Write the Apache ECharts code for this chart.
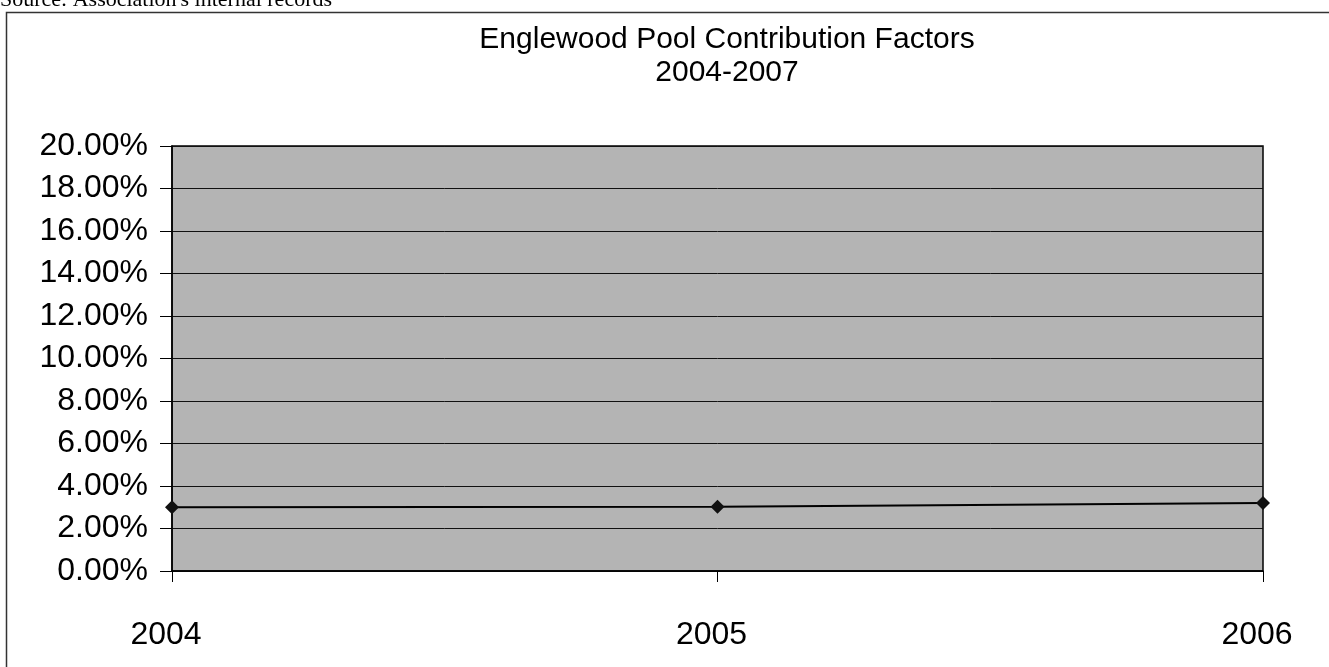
<!DOCTYPE html>
<html>
<head>
<meta charset="utf-8">
<script src="https://cdn.jsdelivr.net/npm/echarts@6/dist/echarts.min.js"></script>
<style>
html,body{margin:0;padding:0;background:#fff;}
#chart{width:1329px;height:667px;}
</style>
</head>
<body>
<div id="chart"></div>
<script>
const categories = ['2004', '2005', '2006'];
const contributionFactor = [3.0, 3.02, 3.2];
const yTicks = [0, 2, 4, 6, 8, 10, 12, 14, 16, 18, 20];

const chart = echarts.init(document.getElementById('chart'), null, {renderer: 'canvas'});
const font = 'Arial, "Liberation Sans", sans-serif';
chart.setOption({
  animation: false,
  backgroundColor: '#ffffff',
  title: {
    text: 'Englewood Pool Contribution Factors\n2004-2007',
    left: 722,
    top: 18,
    textAlign: 'center',
    textStyle: {fontFamily: font, fontSize: 30, fontWeight: 'normal', color: '#000', lineHeight: 33}
  },
  graphic: [
    {type: 'text', left: 0, top: -11, style: {text: "Source: Association's internal records", font: '22px "Liberation Serif", "Times New Roman", serif', fill: '#000'}},
    {type: 'rect', shape: {x: 6.5, y: 12.5, width: 1340, height: 680}, style: {fill: 'none', stroke: '#333', lineWidth: 1.5}, z: -1}
  ],
  grid: {left: 172, right: 66, top: 146, bottom: 96, show: true, backgroundColor: '#b4b4b4', borderWidth: 1.5, borderColor: '#000'},
  xAxis: {
    type: 'category',
    data: categories,
    boundaryGap: false,
    axisLine: {show: true, lineStyle: {color: '#000', width: 1.5}},
    axisTick: {show: true, length: 11, alignWithLabel: true, lineStyle: {color: '#000'}},
    axisLabel: {fontFamily: font, fontSize: 32, color: '#000', margin: 48, padding: [0, 12, 0, 0]},
    splitLine: {show: false}
  },
  yAxis: {
    type: 'value',
    min: yTicks[0],
    max: yTicks[yTicks.length - 1],
    interval: 2,
    axisLine: {show: true, lineStyle: {color: '#000', width: 1.5}},
    axisTick: {show: true, length: 12, lineStyle: {color: '#000'}},
    axisLabel: {fontFamily: font, fontSize: 32, color: '#000', margin: 24, formatter: v => v.toFixed(2) + '%'},
    splitLine: {show: true, lineStyle: {color: '#111', width: 1}}
  },
  series: [{
    type: 'line',
    data: contributionFactor,
    symbol: 'diamond',
    symbolSize: 14,
    lineStyle: {color: '#000', width: 2},
    itemStyle: {color: '#111'}
  }]
});
</script>
</body>
</html>
